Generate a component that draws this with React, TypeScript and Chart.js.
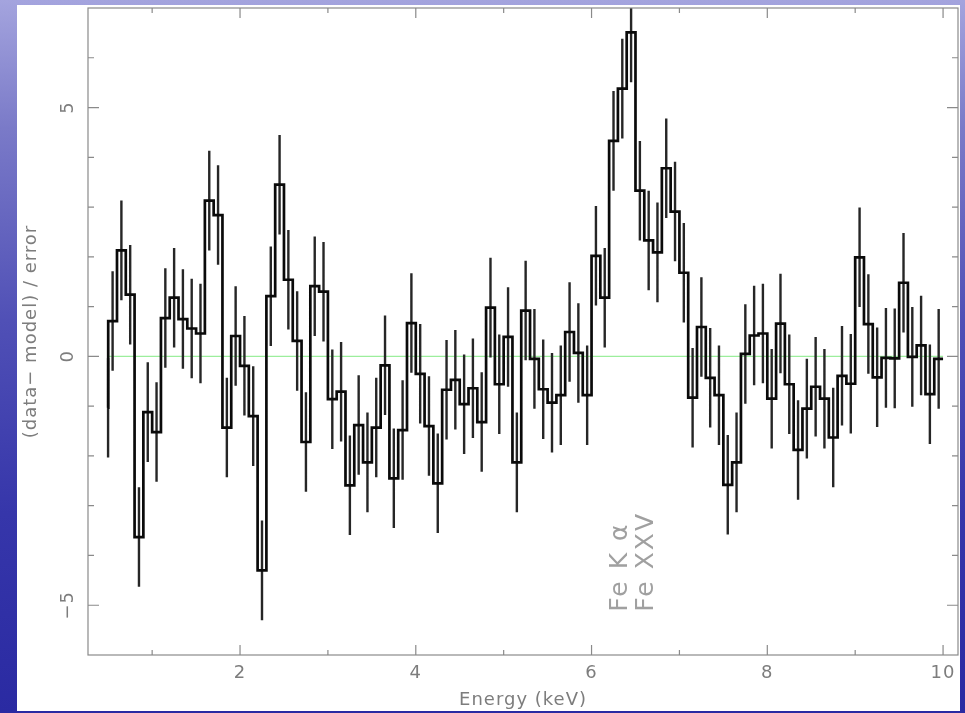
import React, { useEffect, useRef } from "react";
import { Chart, registerables } from "chart.js";

Chart.register(...registerables);

// Residual spectrum binning (keV)
const BIN_START = 0.5;
const BIN_WIDTH = 0.1;

// (data - model) / error for each 0.1 keV bin from 0.5 to 10 keV
const residuals = [
  0.71, 2.13, 1.24, -3.63, -1.12, -1.52, 0.77, 1.18, 0.75, 0.56,
  0.46, 3.13, 2.84, -1.43, 0.41, -0.19, -1.2, -4.3, 1.21, 3.45,
  1.54, 0.31, -1.72, 1.41, 1.3, -0.86, -0.71, -2.59, -1.38, -2.13,
  -1.43, -0.18, -2.45, -1.48, 0.67, -0.35, -1.4, -2.55, -0.67, -0.47,
  -0.96, -0.64, -1.32, 0.98, -0.56, 0.39, -2.13, 0.92, -0.05, -0.66,
  -0.93, -0.78, 0.49, 0.07, -0.78, 2.02, 1.18, 4.33, 5.38, 6.51,
  3.33, 2.33, 2.09, 3.78, 2.91, 1.68, -0.83, 0.59, -0.43, -0.78,
  -2.58, -2.13, 0.05, 0.42, 0.46, -0.85, 0.66, -0.56, -1.88, -1.05,
  -0.61, -0.85, -1.63, -0.39, -0.55, 1.99, 0.65, -0.42, -0.03, -0.04,
  1.48, -0.01, 0.22, -0.76, -0.05,
];

// Narrow leading bin just below 0.5 keV
const leadBinLo = 0.497;
const leadBinValue = -1.03;

// Residuals are in units of sigma, so every error bar is +/- 1
const ERR = 1;

const X_MIN = 0.27;
const X_MAX = 10.17;
const Y_MIN = -6;
const Y_MAX = 7;

const xMajorTicks = [2, 4, 6, 8, 10];
const xMinorTicks = [1, 3, 5, 7, 9];
const yMajorTicks = [-5, 0, 5];
const yMinorTicks = [-4, -3, -2, -1, 1, 2, 3, 4, 6];

const xTitle = "Energy (keV)";
const yTitle = "(data\u2212 model) / error";

// Emission line markers
const lineNames = ["Fe K \u03b1", "Fe XXV"];
const lineEnergies = [6.4, 6.7];
const lineLabelY = -5.13;

const TEXT_COLOR = "#7d7d7d";
const FRAME_COLOR = "#8a8a8a";
const FONT = '18px "DejaVu Sans", sans-serif';
const LINE_FONT = '25px "DejaVu Sans", sans-serif';

const framePlugin = {
  id: "pgFrame",
  afterDraw(chart: any) {
    const { ctx, chartArea, scales } = chart;
    const xs = scales.x;
    const ys = scales.y;
    const { left, right, top, bottom } = chartArea;
    ctx.save();
    ctx.strokeStyle = FRAME_COLOR;
    ctx.lineWidth = 1.2;
    ctx.strokeRect(left, top, right - left, bottom - top);

    ctx.beginPath();
    const xTick = (v: number, len: number) => {
      const px = xs.getPixelForValue(v);
      ctx.moveTo(px, bottom);
      ctx.lineTo(px, bottom - len);
      ctx.moveTo(px, top);
      ctx.lineTo(px, top + len);
    };
    const yTick = (v: number, len: number) => {
      const py = ys.getPixelForValue(v);
      ctx.moveTo(left, py);
      ctx.lineTo(left + len, py);
      ctx.moveTo(right, py);
      ctx.lineTo(right - len, py);
    };
    xMajorTicks.forEach((v) => xTick(v, 10));
    xMinorTicks.forEach((v) => xTick(v, 5));
    yMajorTicks.forEach((v) => yTick(v, 11));
    yMinorTicks.forEach((v) => yTick(v, 6));
    ctx.stroke();

    ctx.fillStyle = TEXT_COLOR;
    ctx.font = FONT;
    (ctx as any).letterSpacing = "1px";

    // x tick labels
    ctx.textAlign = "center";
    ctx.textBaseline = "middle";
    xMajorTicks.forEach((v) => {
      ctx.fillText(String(v), xs.getPixelForValue(v), bottom + 18);
    });

    // x title
    ctx.textBaseline = "alphabetic";
    ctx.fillText(xTitle, (left + right) / 2, bottom + 50);

    // y tick labels, rotated
    yMajorTicks.forEach((v) => {
      ctx.save();
      ctx.translate(left - 20, ys.getPixelForValue(v));
      ctx.rotate(-Math.PI / 2);
      ctx.textAlign = "center";
      ctx.textBaseline = "middle";
      ctx.fillText(v < 0 ? "\u2212" + Math.abs(v) : String(v), 0, 0);
      ctx.restore();
    });

    // y title
    ctx.save();
    ctx.translate(left - 57, (top + bottom) / 2);
    ctx.rotate(-Math.PI / 2);
    ctx.textAlign = "center";
    ctx.textBaseline = "middle";
    ctx.fillText(yTitle, 0, 0);
    ctx.restore();

    // line identifications, baseline on the line energy
    ctx.font = LINE_FONT;
    ctx.fillStyle = "#a0a0a0";
    (ctx as any).letterSpacing = "2px";
    lineNames.forEach((name, i) => {
      ctx.save();
      ctx.translate(xs.getPixelForValue(lineEnergies[i]), ys.getPixelForValue(lineLabelY));
      ctx.rotate(-Math.PI / 2);
      ctx.textAlign = "left";
      ctx.textBaseline = "alphabetic";
      ctx.fillText(name, 0, 0);
      ctx.restore();
    });

    ctx.restore();
  },
};

export default function App() {
  const canvasRef = useRef<HTMLCanvasElement | null>(null);

  useEffect(() => {
    const canvas = canvasRef.current;
    if (!canvas) return;

    const stepPoints: { x: number; y: number }[] = [{ x: leadBinLo, y: leadBinValue }];
    residuals.forEach((v, i) => stepPoints.push({ x: BIN_START + i * BIN_WIDTH, y: v }));
    stepPoints.push({
      x: BIN_START + residuals.length * BIN_WIDTH,
      y: residuals[residuals.length - 1],
    });

    const errPoints: { x: number; y: number | null }[] = [];
    const addBar = (c: number, v: number) => {
      errPoints.push({ x: c, y: v - ERR }, { x: c, y: v + ERR }, { x: c, y: null });
    };
    addBar((leadBinLo + BIN_START) / 2, leadBinValue);
    residuals.forEach((v, i) => addBar(BIN_START + (i + 0.5) * BIN_WIDTH, v));

    const zeroLine = [
      { x: BIN_START, y: 0 },
      { x: BIN_START + residuals.length * BIN_WIDTH, y: 0 },
    ];

    const chart = new Chart(canvas, {
      type: "line",
      data: {
        datasets: [
          {
            data: stepPoints,
            stepped: true,
            borderColor: "#0a0a0a",
            borderWidth: 2.7,
            pointRadius: 0,
          },
          {
            data: errPoints as any,
            borderColor: "#262626",
            borderWidth: 2.4,
            pointRadius: 0,
            spanGaps: false,
          },
          {
            data: zeroLine,
            borderColor: "#9cee9c",
            borderWidth: 1.2,
            pointRadius: 0,
          },
        ],
      },
      options: {
        animation: false,
        responsive: false,
        devicePixelRatio: 1,
        layout: { padding: { left: 71, right: 2, top: 3, bottom: 56 } },
        scales: {
          x: { type: "linear", min: X_MIN, max: X_MAX, display: false },
          y: { type: "linear", min: Y_MIN, max: Y_MAX, display: false },
        },
        plugins: {
          legend: { display: false },
          tooltip: { enabled: false },
        },
        elements: { line: { tension: 0 } },
      },
      plugins: [framePlugin],
    });

    return () => chart.destroy();
  }, []);

  return (
    <div
      style={{
        position: "relative",
        width: 965,
        height: 713,
        overflow: "hidden",
        background:
          "linear-gradient(180deg, #a4a4de 0%, #7a7ac8 18%, #5050b6 45%, #3636aa 72%, #2a2aa2 100%)",
      }}
    >
      <style>{"body{margin:0}"}</style>
      <div
        style={{
          position: "absolute",
          left: 17,
          top: 5,
          width: 943,
          height: 706,
          background: "#ffffff",
        }}
      >
        <canvas
          ref={canvasRef}
          width={943}
          height={706}
          style={{ display: "block", width: 943, height: 706 }}
        />
      </div>
    </div>
  );
}
